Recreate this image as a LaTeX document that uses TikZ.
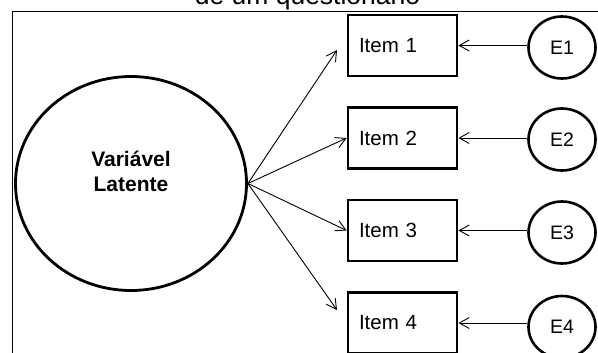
\documentclass[tikz,border=0pt]{standalone}
\usepackage{fontspec}
\setmainfont{Liberation Sans}
\usetikzlibrary{arrows.meta,shapes.geometric}
\begin{document}
\begin{tikzpicture}[x=1pt,y=-1pt,
  itembox/.style={draw,line width=2.8pt,minimum width=109pt,minimum height=61pt,
    text width=87pt,align=left,inner xsep=11pt,inner ysep=0pt,
    font=\fontsize{20.5}{24}\selectfont},
  errnode/.style={draw,ellipse,line width=2.6pt,minimum width=67pt,minimum height=62pt,
    inner sep=0pt,font=\fontsize{19.5}{23}\selectfont},
  latnode/.style={draw,ellipse,line width=2.8pt,minimum width=231pt,minimum height=214pt,inner sep=0pt},
  arr/.style={line width=0.9pt,-{Straight Barb[length=10pt,width=11pt]}},
  frameline/.style={line width=1pt}
]
\useasboundingbox (0,0) rectangle (598,353);
\clip (0,0) rectangle (598,353);
\fill[white] (0,0) rectangle (598,353);
% frame
\draw[frameline] (12,400) -- (12,12) -- (640,12);
% caption (cut off, as in the reference)
\node[anchor=base,inner sep=0pt,font=\fontsize{26.5}{30}\selectfont] (cap) at (307.5,4.5) {de um questionário};
% latent variable
\node[latnode,label={[font=\bfseries\fontsize{21}{25}\selectfont,align=center,yshift=12.5pt]center:Variável\\Latente}] (lat) at (131,183.5) {};
% items
\node[itembox] (i1) at (402.5,45.5) {Item 1};
\node[itembox] (i2) at (402.5,138) {Item 2};
\node[itembox] (i3) at (402.5,230.5) {Item 3};
\node[itembox] (i4) at (402.5,323) {Item 4};
% errors
\node[errnode] (e1) at (562,47.5) {\raisebox{-3pt}{E1}};
\node[errnode] (e2) at (562,139.5) {\raisebox{-4pt}{E2}};
\node[errnode] (e3) at (562,232.5) {\raisebox{-4pt}{E3}};
\node[errnode] (e4) at (562,327) {\raisebox{-5pt}{E4}};
% loading arrows
\coordinate (t1) at (337,50);
\coordinate (t4) at (337,310);
\draw[arr] (lat.east) -- (t1);
\draw[arr] (lat.east) -- (i2.west);
\draw[arr] (lat.east) -- (i3.west);
\draw[arr] (lat.east) -- (t4);
% error arrows
\draw[arr] (e1.west |- i1.east) -- (i1.east);
\draw[arr] (e2.west |- i2.east) -- (i2.east);
\draw[arr] (e3.west |- i3.east) -- (i3.east);
\draw[arr] (e4.west |- i4.east) -- (i4.east);
\end{tikzpicture}
\end{document}
